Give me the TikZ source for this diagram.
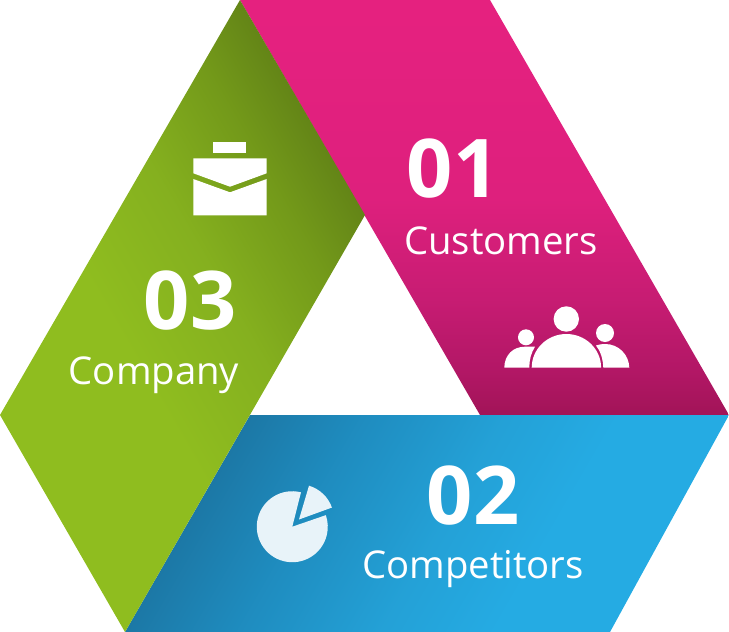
\documentclass[tikz,border=0pt]{standalone}
\usepackage{fontspec}
\setmainfont{Open Sans}
\pgfdeclareverticalshading{pinkShade}{100bp}{rgb(0bp)=(0.635,0.078,0.345);rgb(25bp)=(0.635,0.078,0.345);rgb(30.5bp)=(0.70,0.09,0.40);rgb(39bp)=(0.78,0.11,0.45);rgb(51bp)=(0.87,0.125,0.49);rgb(75bp)=(0.90,0.13,0.50);rgb(100bp)=(0.90,0.13,0.50)}
\pgfdeclarehorizontalshading{greenShade}{100bp}{rgb(0bp)=(0.39,0.52,0.09);rgb(25bp)=(0.39,0.52,0.09);rgb(32.4bp)=(0.45,0.60,0.10);rgb(43.6bp)=(0.52,0.69,0.12);rgb(56.4bp)=(0.56,0.74,0.12);rgb(100bp)=(0.56,0.74,0.12)}
\pgfdeclarehorizontalshading{blueShade}{100bp}{rgb(0bp)=(0.11,0.47,0.65);rgb(25bp)=(0.11,0.47,0.65);rgb(36.6bp)=(0.12,0.55,0.75);rgb(50.6bp)=(0.14,0.63,0.84);rgb(62.2bp)=(0.145,0.67,0.89);rgb(100bp)=(0.145,0.67,0.89)}
\definecolor{pale}{HTML}{E8F3F9}
\tikzset{
  numtext/.style={text=white,font=\bfseries\fontsize{81}{81}\selectfont,inner sep=0pt,anchor=base},
  labeltext/.style={text=white,font=\fontsize{38.3}{38.3}\selectfont,inner sep=0pt,anchor=base},
  iconwhite/.style={fill=white,draw=none},
  iconpale/.style={fill=pale,draw=none}
}
\begin{document}
\begin{tikzpicture}[x=1pt,y=-1pt]
\useasboundingbox (0,0) rectangle (729,632);
% pink band
\begin{scope}
\clip (240,0) -- (490,0) -- (729,415) -- (480,415) -- cycle;
\shade[shading=pinkShade] (240,0) rectangle (729,415);
\end{scope}
% blue band
\begin{scope}
\clip (250,415) -- (729,415) -- (610,632) -- (125,632) -- cycle;
\shade[shading=blueShade,transform canvas={shift={(250pt,-415pt)},rotate=-30}] (0,-800) rectangle (430,800);
\end{scope}
% green band
\begin{scope}
\clip (240,0) -- (365,215) -- (125,632) -- (0,415) -- cycle;
\shade[shading=greenShade,transform canvas={shift={(365pt,-215pt)},rotate=210}] (0,-800) rectangle (430,800);
\end{scope}
% labels
\node[numtext] (n1) at (453,197) {01};
\node[labeltext] (l1) at (501,254) {Customers};
\node[numtext] (n2) at (473,524) {02};
\node[labeltext] (l2) at (473,578) {Competitors};
\node[numtext] (n3) at (190,329) {03};
\node[labeltext] (l3) at (154,384) {Company};
% briefcase
\fill[iconwhite] (213,142) rectangle (246,153);
\fill[iconwhite] (193.3,158.3) -- (266.7,158.3) -- (266.7,173.3) -- (230,186.7) -- (193.3,173.3) -- cycle;
\fill[iconwhite] (193.3,179) -- (230,192.3) -- (266.7,179) -- (266.7,215.3) -- (193.3,215.3) -- cycle;
% people
\fill[iconwhite] (566.3,319) circle (12.7);
\fill[iconwhite] (526,337.3) circle (8);
\fill[iconwhite] (605,333) circle (9);
\fill[iconwhite] (531.7,367.7) arc[start angle=180,end angle=0,x radius=34.7pt,y radius=33.7pt] -- cycle;
\fill[iconwhite] (504.3,367.7) .. controls (504.5,355) and (513,346.7) .. (525,346.7) -- (535,346.7) .. controls (531,353) and (529.3,360) .. (529.3,367.7) -- cycle;
\fill[iconwhite] (603.3,367.7) .. controls (603,359) and (600.5,351) .. (596,345.5) .. controls (599,344.4) and (602,344) .. (605,344) .. controls (619,344) and (629,355) .. (629.3,367.7) -- cycle;
% pie
\fill[iconpale] (292.3,526.7) -- (301,492.3) arc[start angle=75.8,end angle=379,radius=35.5pt] -- cycle;
\fill[iconpale] (299,519.5) -- (309,485.7) arc[start angle=73.3,end angle=19.5,radius=35pt] -- cycle;
\end{tikzpicture}
\end{document}
